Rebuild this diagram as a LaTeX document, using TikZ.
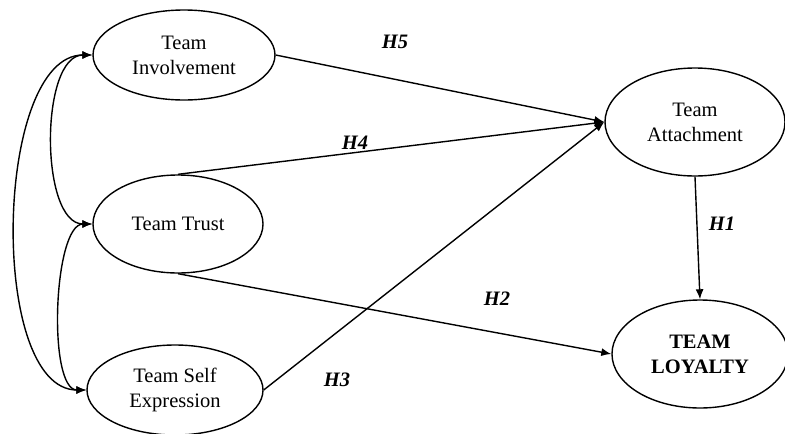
\documentclass[tikz,border=0pt]{standalone}
\usepackage{fontspec}
\setmainfont{Liberation Serif}
\usepackage{tikz}
\usetikzlibrary{shapes.geometric,arrows.meta}

\begin{document}
\begin{tikzpicture}[x=1pt,y=-1pt,line width=1.4pt,
  construct/.style={ellipse,draw,inner sep=0pt,align=center,font=\fontsize{20.5}{25}\selectfont},
  hyp/.style={font=\fontsize{20.5}{25}\selectfont\bfseries\itshape},
  path/.style={-{Latex[length=10pt,width=8pt]}},
  cov/.style={{Latex[length=10pt,width=8pt]}-{Latex[length=10pt,width=8pt]}}]
\useasboundingbox (0,0) rectangle (785,434);
\node[construct,minimum width=182pt,minimum height=90pt] (inv) at (184,55) {Team\\ Involvement};
\node[construct,minimum width=170pt,minimum height=98pt] (trust) at (178,224) {Team Trust};
\node[construct,minimum width=176pt,minimum height=90pt] (self) at (175,390) {Team Self\\ Expression};
\node[construct,minimum width=180pt,minimum height=108pt] (att) at (695,122) {Team\\ Attachment};
\node[construct,minimum width=176pt,minimum height=108pt] (loy) at (700,354) {\bfseries TEAM\\ \bfseries LOYALTY};
\draw[path] (inv.east) -- (att.west);
\draw[path] (trust.north) -- (att.west);
\draw[path] (self.east) -- (att.west);
\draw[path] (trust.south) -- (loy.west);
\draw[path] (att.south) -- (loy.north);
\draw[cov] (inv.west) to[out=180,in=180,looseness=0.8] (trust.west);
\draw[cov] (trust.west) to[out=180,in=180,looseness=0.6] (self.west);
\draw[cov] (inv.west) to[out=180,in=180,looseness=0.75] (self.west);
\node[hyp] (h5) at (395,42) {H5};
\node[hyp] (h4) at (355,143) {H4};
\node[hyp] (h3) at (337,380) {H3};
\node[hyp] (h2) at (497,299) {H2};
\node[hyp] (h1) at (722,224) {H1};
\end{tikzpicture}
\end{document}
